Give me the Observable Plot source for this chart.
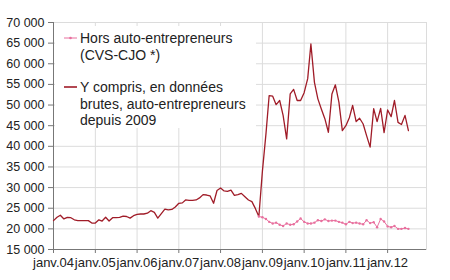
<!DOCTYPE html>
<html>
<head>
<meta charset="utf-8">
<script src="https://cdn.jsdelivr.net/npm/d3@7"></script>
<script src="https://cdn.jsdelivr.net/npm/@observablehq/plot@0.6"></script>
<style>
  html, body { margin: 0; padding: 0; background: #fff; }
  #wrap { position: relative; width: 450px; height: 280px; font-family: "Liberation Sans", Arial, sans-serif; }
  #legend { position: absolute; left: 55px; top: 26px; width: 201px; height: 102px; background: #fff; }
  .item { position: absolute; left: 25px; font-size: 14px; line-height: 16.6px; color: #222; white-space: nowrap; }
  .sw { position: absolute; left: 9px; }
</style>
</head>
<body>
<div id="wrap"></div>
<script>
// Series start dates (year, month index)
const redStart = [2004, 0];
const pinkStart = [2008, 11];

// Y compris, en données brutes, auto-entrepreneurs depuis 2009 (monthly, janv. 2004 -> juil. 2012)
const redValues = [
  22000, 22800, 23300, 22400, 22800, 22700, 22200, 22000, 22000, 22000, 22000, 21400,
  21400, 22200, 21900, 22800, 21900, 22700, 22700, 22800, 23100, 23000, 22600, 23200,
  23500, 23600, 23600, 23800, 24400, 24000, 22600, 23700, 24800, 24600, 24700, 25300,
  26200, 26300, 27000, 26900, 26900, 27000, 27500, 28300, 28200, 28000, 26200, 29300,
  29900, 29200, 29100, 29400, 28100, 28300, 28600, 27800, 27000, 26600, 24900, 23000,
  34000, 43000, 52300, 52150, 50100, 51100, 47500, 41800, 52700, 53800, 51100, 51100,
  53000, 56400, 64800, 55500, 51500, 49000, 46700, 43400, 52700, 54900, 50700, 43800,
  45000, 47000, 49900, 46000, 46800, 45400, 42600, 39800, 49100, 46000, 49200, 43300,
  48800, 47200, 51100, 45800, 45300, 47500, 43800
];

// Hors auto-entrepreneurs (CVS-CJO) (monthly, déc. 2008 -> juil. 2012)
const pinkValues = [
  23000, 22800, 22400, 21700, 21300, 21500, 21000, 20700, 21300, 21000, 21100, 21800,
  22500, 21700, 21300, 21300, 21500, 22100, 21900, 22300, 21900, 22000, 22000, 21700,
  21500, 21100, 21700, 21400, 21500, 21300, 21100, 22100, 21400, 21600, 20400, 22400,
  21800, 20600, 20400, 20700, 20000, 20000, 20200, 20000
];

const yearTicks = [2004, 2005, 2006, 2007, 2008, 2009, 2010, 2011, 2012];
const yTicks = [15000, 20000, 25000, 30000, 35000, 40000, 45000, 50000, 55000, 60000, 65000, 70000];
const legendLabels = [["Hors auto-entrepreneurs", "(CVS-CJO *)"], ["Y compris, en données", "brutes, auto-entrepreneurs", "depuis 2009"]];

const RED = "#a01c28";
const PINK = "#e8709e";

const toRows = (vals, [y, m]) => vals.map((v, i) => ({date: new Date(Date.UTC(y, m + i, 1)), value: v}));
const redData = toRows(redValues, redStart);
const pinkData = toRows(pinkValues, pinkStart);
const xTicks = yearTicks.map(y => new Date(Date.UTC(y, 0, 1)));
const xDomain = [new Date(Date.UTC(2004, 0, 1)), new Date(Date.UTC(2012, 11, 6))];
const fmtY = d => d3.format(",")(d).replace(/,/g, " ");
const fmtX = d => "janv." + String(d.getUTCFullYear()).slice(2);

const chart = Plot.plot({
  width: 450,
  height: 280,
  marginLeft: 53,
  marginTop: 22,
  marginRight: 24,
  marginBottom: 31,
  style: {fontFamily: '"Liberation Sans", Arial, sans-serif', fontSize: "12px", color: "#222", background: "#fff"},
  x: {type: "utc", domain: xDomain},
  y: {domain: [15000, 70000]},
  marks: [
    Plot.gridX(xTicks, {stroke: "#dcdcdc", strokeOpacity: 1}),
    Plot.gridY(yTicks, {stroke: "#dcdcdc", strokeOpacity: 1}),
    Plot.frame({stroke: "#dcdcdc"}),
    Plot.axisX(xTicks, {tickFormat: fmtX, tickSize: 4, tickPadding: 4, stroke: "#777", fill: "#222", label: null, fontSize: 13}),
    Plot.axisY(yTicks, {tickFormat: fmtY, tickSize: 5, tickPadding: 4, stroke: "#777", fill: "#222", label: null, fontSize: 12.5}),
    Plot.ruleX([xDomain[0]], {stroke: "#777"}),
    Plot.ruleY([15000], {stroke: "#777"}),
    Plot.line(redData, {x: "date", y: "value", stroke: RED, strokeWidth: 1.3}),
    Plot.line(pinkData, {x: "date", y: "value", stroke: PINK, strokeWidth: 1}),
    Plot.dot(pinkData, {x: "date", y: "value", r: 1.2, fill: PINK, stroke: null})
  ]
});

const wrap = document.getElementById("wrap");
wrap.appendChild(chart);

// Legend overlay (white box over the plot area)
const legend = document.createElement("div");
legend.id = "legend";
const tops = [4, 53];
const colors = [PINK, RED];
legendLabels.forEach((lines, k) => {
  const it = document.createElement("div");
  it.className = "item";
  it.style.top = tops[k] + "px";
  it.innerHTML = lines.join("<br>");
  legend.appendChild(it);
  const sw = document.createElementNS("http://www.w3.org/2000/svg", "svg");
  sw.setAttribute("class", "sw");
  sw.setAttribute("width", 14);
  sw.setAttribute("height", 6);
  sw.style.top = (tops[k] + 8.3 - 3) + "px";
  sw.innerHTML = k === 0
    ? `<line x1="0" x2="13" y1="3" y2="3" stroke="${PINK}" stroke-width="1"/><circle cx="6.5" cy="3" r="1.3" fill="${PINK}"/>`
    : `<line x1="0" x2="13" y1="3" y2="3" stroke="${RED}" stroke-width="1.6"/>`;
  legend.appendChild(sw);
});
wrap.appendChild(legend);
</script>
</body>
</html>
